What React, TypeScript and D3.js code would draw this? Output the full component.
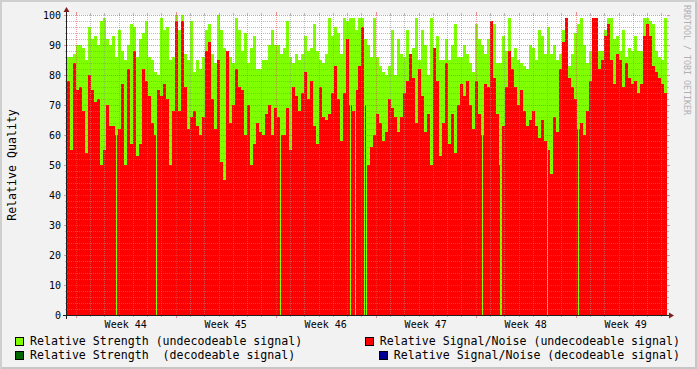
import React from "react";
import * as d3 from "d3";

// Relative Strength (undecodeable signal) – green, one value per ~5h step
const strength = [
  86, 86, 87, 90, 90, 89, 85, 96, 92, 93, 90, 98, 99, 92, 90, 93, 86, 95, 88, 85, 90, 97, 96, 86, 92, 94, 98, 86, 85, 81, 80, 99, 95,
  96, 85, 86, 100, 95, 100, 87, 85, 98, 81, 85, 82, 86, 95, 97, 87, 84, 100, 95, 89, 87, 86, 84, 99, 95, 88, 94, 84, 89, 93, 82, 82, 85, 85,
  90, 95, 90, 90, 87, 89, 98, 86, 84, 87, 85, 87, 93, 88, 89, 97, 88, 85, 84, 87, 99, 93, 96, 94, 87, 99, 98, 99, 99, 95, 99, 99, 92,
  90, 86, 99, 86, 83, 81, 80, 83, 95, 80, 92, 87, 86, 95, 87, 89, 99, 85, 95, 90, 80, 99, 86, 93, 85, 85, 92, 85, 90, 97, 86, 86, 90, 87,
  84, 81, 97, 92, 90, 87, 92, 89, 97, 84, 84, 93, 88, 99, 86, 89, 85, 84, 83, 82, 90, 89, 85, 95, 93, 87, 96, 87, 90, 85, 87, 95, 99,
  83, 87, 94, 97, 99, 90, 84, 88, 99, 99, 88, 88, 95, 99, 99, 92, 93, 88, 95, 86, 89, 88, 93, 88, 88, 99, 99, 98, 97, 88, 86, 85, 99,
];

// Relative Signal/Noise (undecodeable signal) – red
const snr = [
  78, 55, 84, 75, 76, 68, 54, 80, 75, 71, 72, 50, 55, 70, 63, 63, 60, 62, 77, 50, 82, 57, 88, 53, 57, 82, 78, 73, 64, 60, 75, 73, 77,
  72, 50, 68, 98, 68, 98, 76, 62, 66, 68, 63, 60, 66, 88, 91, 72, 62, 85, 51, 45, 88, 64, 70, 82, 76, 75, 60, 70, 50, 57, 64, 61, 60, 67,
  70, 60, 69, 66, 60, 60, 69, 55, 76, 73, 68, 74, 81, 72, 78, 63, 57, 76, 66, 65, 67, 74, 83, 72, 58, 74, 92, 70, 68, 75, 83, 96, 70,
  50, 56, 60, 67, 64, 58, 61, 72, 69, 66, 61, 66, 74, 78, 87, 79, 64, 82, 73, 61, 67, 50, 89, 78, 53, 64, 84, 57, 67, 54, 70, 77, 73, 78,
  70, 62, 78, 67, 60, 77, 76, 98, 79, 67, 50, 63, 76, 88, 82, 76, 70, 75, 68, 63, 65, 68, 63, 59, 65, 58, 55, 47, 66, 61, 82, 91, 99,
  79, 76, 72, 62, 64, 60, 68, 78, 99, 99, 82, 85, 93, 97, 85, 77, 87, 85, 76, 84, 79, 77, 78, 74, 77, 93, 97, 93, 83, 81, 79, 77, 74,
];

// short Signal/Noise dropouts to 0 (position in steps, each lasting a third of a step)
const snrDropouts = [16.33, 29.67, 71, 94.33, 96, 99, 99.67, 138.33, 144.33, 144.67, 160, 170.33];

const yTickValues = [0, 10, 20, 30, 40, 50, 60, 70, 80, 90, 100];
const yMinorStep = 2;
const weekLabels = ["Week 44", "Week 45", "Week 46", "Week 47", "Week 48", "Week 49"];

const legendLeft = [
  { label: "Relative Strength (undecodeable signal)", color: "#80ff00" },
  { label: "Relative Strength  (decodeable signal)", color: "#006600" },
];
const legendRight = [
  { label: "Relative Signal/Noise (undecodeable signal)", color: "#ff0000" },
  { label: "Relative Signal/Noise (decodeable signal)", color: "#000090" },
];

const W = 697;
const H = 369;
const X0 = 67;
const X1 = 667;
const Y0 = 315;
const Y1 = 15;
const FONT = "'DejaVu Sans Mono', monospace";
const GRID = "rgba(143,143,143,0.6)";
const MGRID = "rgba(222,79,79,0.6)";

export default function App() {
  const start = new Date(Date.UTC(2008, 9, 26, 9, 24));
  const end = d3.utcDay.offset(start, 42);
  const x = d3.scaleUtc().domain([start, end]).range([X0, X1]);
  const y = d3.scaleLinear().domain([0, 100]).range([Y0, Y1]);

  const N = strength.length;
  const step = (+end - +start) / N;
  const tAt = (p: number) => new Date(+start + p * step);

  const toPts = (vals: number[], drops: number[] = []) => {
    const breaks = d3.range(0, N + 1) as number[];
    drops.forEach((p) => {
      breaks.push(p, p + 1 / 3);
    });
    const sorted = Array.from(new Set(breaks.map((b) => Math.round(b * 1000) / 1000))).sort((a, b) => a - b);
    return sorted.map((b) => {
      const inDrop = drops.some((p) => b >= p - 1e-6 && b < p + 1 / 3 - 1e-3);
      const idx = Math.min(N - 1, Math.floor(b + 1e-6));
      return [tAt(b), inDrop ? 0 : vals[idx]] as [Date, number];
    });
  };

  const area = d3
    .area<[Date, number]>()
    .x((d) => x(d[0]))
    .y0(y(0))
    .y1((d) => y(d[1]))
    .curve(d3.curveStepAfter);

  const days = d3.utcDay.range(start, end);
  const mondays = d3.utcMonday.range(start, end);
  const minorDays = days.filter((d) => d.getUTCDay() !== 1);
  const yMinor = d3.range(0, 101, yMinorStep).filter((v) => v % 10 !== 0);
  const yMajor = yTickValues.filter((v) => v !== 0);

  const px = (v: number) => Math.round(v) + 0.5;

  return (
    <svg
      width={W}
      height={H}
      style={{ position: "absolute", left: 0, top: 0, display: "block" }}
      fontFamily={FONT}
    >
      <rect x={0} y={0} width={W} height={H} fill="#f2f2f2" />
      <polygon points={`0,0 ${W},0 ${W - 2},2 2,2 2,${H - 2} 0,${H}`} fill="#cfcfcf" />
      <polygon points={`${W},0 ${W},${H} 0,${H} 2,${H - 2} ${W - 2},${H - 2} ${W - 2},2`} fill="#c6c6c6" />
      <rect x={X0} y={Y1} width={X1 - X0} height={Y0 - Y1} fill="#ffffff" />

      <path d={area(toPts(strength)) || ""} fill="#80ff00" shapeRendering="crispEdges" />
      <path d={area(toPts(snr, snrDropouts)) || ""} fill="#ff0000" shapeRendering="crispEdges" />

      {/* minor grid */}
      <g stroke={GRID} strokeWidth={1} shapeRendering="crispEdges">
        {yMinor.map((v) => (
          <g key={"ym" + v}>
            <line x1={X0} x2={X1} y1={px(y(v))} y2={px(y(v))} strokeDasharray="1 1" />
            <line x1={X0 - 2} x2={X0} y1={px(y(v))} y2={px(y(v))} />
            <line x1={X1} x2={X1 + 2} y1={px(y(v))} y2={px(y(v))} />
          </g>
        ))}
        {minorDays.map((d) => (
          <g key={"xm" + +d}>
            <line x1={px(x(d))} x2={px(x(d))} y1={Y1} y2={Y0} strokeDasharray="1 1" />
            <line x1={px(x(d))} x2={px(x(d))} y1={Y1 - 2} y2={Y1} />
            <line x1={px(x(d))} x2={px(x(d))} y1={Y0} y2={Y0 + 2} />
          </g>
        ))}
      </g>
      {/* major grid */}
      <g stroke={MGRID} strokeWidth={1} shapeRendering="crispEdges">
        {yMajor.map((v) => (
          <g key={"yM" + v}>
            <line x1={X0} x2={X1} y1={px(y(v))} y2={px(y(v))} strokeDasharray="1 1" />
            <line x1={X0 - 3} x2={X0} y1={px(y(v))} y2={px(y(v))} />
            <line x1={X1} x2={X1 + 3} y1={px(y(v))} y2={px(y(v))} />
          </g>
        ))}
        {mondays.map((d) => (
          <g key={"xM" + +d}>
            <line x1={px(x(d))} x2={px(x(d))} y1={Y1} y2={Y0} strokeDasharray="1 1" />
            <line x1={px(x(d))} x2={px(x(d))} y1={Y1 - 3} y2={Y1} />
            <line x1={px(x(d))} x2={px(x(d))} y1={Y0} y2={Y0 + 3} />
          </g>
        ))}
      </g>

      {/* axes */}
      <g stroke="#1f1f1f" strokeWidth={1} shapeRendering="crispEdges">
        <line x1={X0 - 4} x2={X1 + 3} y1={Y0 + 0.5} y2={Y0 + 0.5} />
        <line x1={X0 - 0.5} x2={X0 - 0.5} y1={Y0 + 4} y2={Y1 - 4} />
      </g>
      <polygon
        points={`${X1 + 2},${Y0 - 2.5} ${X1 + 2},${Y0 + 3.5} ${X1 + 7},${Y0 + 0.5}`}
        fill="#801f1f"
      />
      <polygon
        points={`${X0 - 3.5},${Y1 - 3} ${X0 + 2.5},${Y1 - 3} ${X0 - 0.5},${Y1 - 8}`}
        fill="#801f1f"
      />

      {/* y labels */}
      <g fontSize={10} fill="#000" textAnchor="end">
        {yTickValues.map((v) => (
          <text key={"yl" + v} x={X0 - 6} y={y(v) + 3.5}>
            {String(v)}
          </text>
        ))}
      </g>
      {/* x labels */}
      <g fontSize={10} fill="#000" textAnchor="middle">
        {mondays.map((d, i) => (
          <text key={"wl" + i} x={x(d3.utcHour.offset(d, 84))} y={328}>
            {weekLabels[i]}
          </text>
        ))}
      </g>

      <text
        transform="translate(16,165) rotate(-90)"
        textAnchor="middle"
        fontSize={11.6}
        fill="#000"
      >
        Relative Quality
      </text>

      <text
        transform="translate(684,60) rotate(90)"
        textAnchor="middle"
        fontSize={8.3}
        fill="#b0b0b0"
      >
        RRDTOOL / TOBI OETIKER
      </text>

      {/* legend */}
      <g fontSize={11.6} fill="#000" style={{ whiteSpace: "pre" }}>
        {legendLeft.map((l, i) => (
          <g key={"ll" + i}>
            <rect x={15.5} y={337.5 + i * 14} width={8} height={8} fill={l.color} stroke="#000" />
            <text x={30} y={345 + i * 14} xmlSpace="preserve">
              {l.label}
            </text>
          </g>
        ))}
        {legendRight.map((l, i) => (
          <g key={"lr" + i}>
            <rect x={365.5 + i * 14} y={337.5 + i * 14} width={8} height={8} fill={l.color} stroke="#000" />
            <text x={680} y={345 + i * 14} textAnchor="end" xmlSpace="preserve">
              {l.label}
            </text>
          </g>
        ))}
      </g>
    </svg>
  );
}
